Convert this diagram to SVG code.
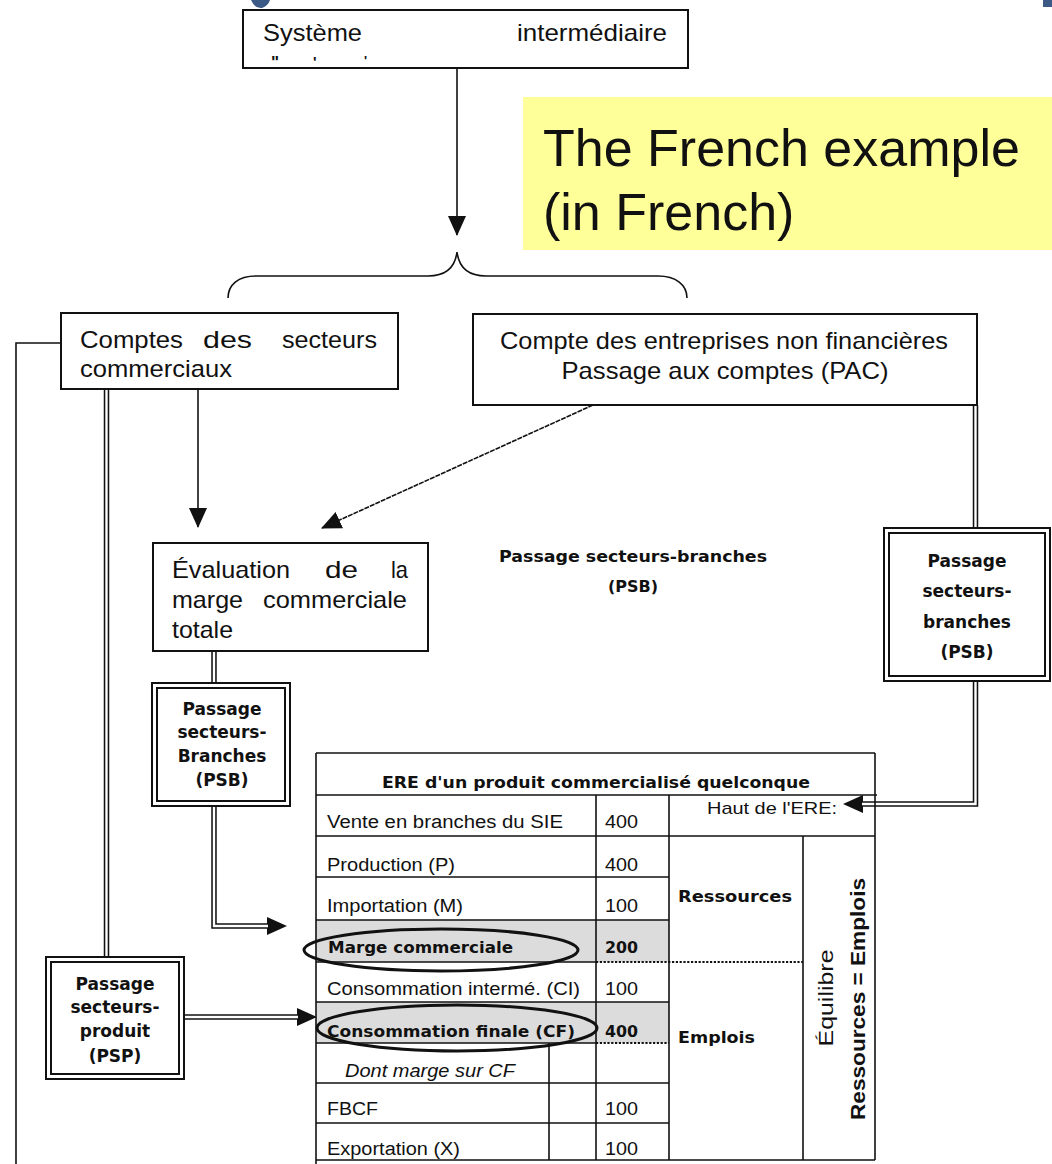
<svg xmlns="http://www.w3.org/2000/svg" width="1052" height="1164" viewBox="0 0 1052 1164">
<style>
.bx{fill:#fff;stroke:#111;stroke-width:2}
.t{font-family:"Liberation Sans",Arial,sans-serif;fill:#111}
.b{font-family:"DejaVu Sans",Verdana,sans-serif;font-weight:bold;fill:#111}
.bl{font-family:"Liberation Sans",Arial,sans-serif;font-weight:bold;fill:#111}
.c{text-anchor:middle}
.ln{fill:none;stroke:#111;stroke-width:1.6}
.dk{fill:none;stroke:#111;stroke-width:5.5;stroke-linejoin:miter}
.dw{fill:none;stroke:#fff;stroke-width:2.4;stroke-linejoin:miter}
.tl{stroke:#111;stroke-width:1.6}
.dot{stroke:#111;stroke-width:2.2;stroke-dasharray:2.2 1.6}
.el{fill:none;stroke:#111;stroke-width:3}
.gr{fill:#dcdcdc}
</style>
<defs>
<marker id="ah" viewBox="0 0 20 18" markerWidth="20" markerHeight="18" refX="19" refY="9" orient="auto" markerUnits="userSpaceOnUse"><path d="M0,0 L20,9 L0,18 z" fill="#111"/></marker>
<marker id="ahd" viewBox="0 0 20 18" markerWidth="20" markerHeight="18" refX="1" refY="9" orient="auto" markerUnits="userSpaceOnUse"><path d="M0,0 L20,9 L0,18 z" fill="#111"/></marker>
</defs>
<rect width="1052" height="1164" fill="#fff"/>
<path d="M251,0 Q255,9 262,8 Q268,6 270,0 Z" fill="#3d5a86"/>
<rect x="1043" y="0" width="9" height="7" fill="#3d5a86"/>

<g id="connectors">
<line class="ln" x1="457" y1="68" x2="457" y2="235" marker-end="url(#ah)"/>
<path class="ln" stroke="#333" d="M228,298 C228,285 238,276 256,276 L428,276 C446,276 455,268 457,252 C459,268 468,276 486,276 L658,276 C676,276 687,285 687,298"/>
<line class="ln" x1="198" y1="389" x2="198" y2="527" marker-end="url(#ah)"/>
<line class="ln" stroke="#3a3a3a" stroke-dasharray="5 1" x1="593" y1="405" x2="322" y2="528" marker-end="url(#ah)"/>
<path class="ln" d="M61,343 H16 V1164"/>
<path class="dk" d="M106.5,389 V957"/>
<path class="dw" d="M106.5,389 V957"/>
<path class="dk" d="M214,651 V683"/>
<path class="dw" d="M214,651 V683"/>
<path class="dk" d="M214,806 V926 H268" marker-end="url(#ahd)"/>
<path class="dw" d="M214,806 V926 H268"/>
<path class="dk" d="M184,1017 H298" marker-end="url(#ahd)"/>
<path class="dw" d="M184,1017 H298"/>
<path class="dk" d="M975.5,405 V528"/>
<path class="dw" d="M975.5,405 V528"/>
<path class="dk" d="M975.5,681 V804 H862" marker-end="url(#ahd)"/>
<path class="dw" d="M975.5,681 V804 H862"/>
</g>

<g id="sie">
<rect class="bx" x="243" y="10" width="445" height="58"/>
<text class="t" x="263" y="41" font-size="24" textLength="99" lengthAdjust="spacingAndGlyphs">Système</text>
<text class="t" x="517" y="41" font-size="24" textLength="150" lengthAdjust="spacingAndGlyphs">intermédiaire</text>
<text class="bl" x="271" y="68" font-size="17">"</text>
<text class="bl" x="313" y="67" font-size="15">'</text>
<text class="bl" x="364" y="65" font-size="13">'</text>
</g>

<g id="note">
<rect x="523" y="97" width="529" height="153" fill="#ffff99"/>
<text class="t" x="543" y="166" font-size="52" fill="#000">The French example</text>
<text class="t" x="543" y="230" font-size="52" fill="#000">(in French)</text>
</g>

<g id="comptes">
<rect class="bx" x="61" y="313" width="337" height="76"/>
<text class="t" x="80" y="348" font-size="24" textLength="103" lengthAdjust="spacingAndGlyphs">Comptes</text>
<text class="t" x="203" y="348" font-size="24" textLength="49" lengthAdjust="spacingAndGlyphs">des</text>
<text class="t" x="282" y="348" font-size="24" textLength="95" lengthAdjust="spacingAndGlyphs">secteurs</text>
<text class="t" x="80" y="377" font-size="24" textLength="152" lengthAdjust="spacingAndGlyphs">commerciaux</text>
</g>

<g id="pac">
<rect class="bx" x="473" y="314" width="504" height="91"/>
<text class="t c" x="724" y="349" font-size="24" textLength="448" lengthAdjust="spacingAndGlyphs">Compte des entreprises non financières</text>
<text class="t c" x="725" y="379" font-size="24" textLength="327" lengthAdjust="spacingAndGlyphs">Passage aux comptes (PAC)</text>
</g>

<g id="evaluation">
<rect class="bx" x="153" y="543" width="275" height="108"/>
<text class="t" x="172" y="578" font-size="24" textLength="118" lengthAdjust="spacingAndGlyphs">Évaluation</text>
<text class="t" x="325" y="578" font-size="24" textLength="33" lengthAdjust="spacingAndGlyphs">de</text>
<text class="t" x="391" y="578" font-size="24" textLength="17" lengthAdjust="spacingAndGlyphs">la</text>
<text class="t" x="172" y="608" font-size="24" textLength="71" lengthAdjust="spacingAndGlyphs">marge</text>
<text class="t" x="263" y="608" font-size="24" textLength="144" lengthAdjust="spacingAndGlyphs">commerciale</text>
<text class="t" x="172" y="638" font-size="24" textLength="61" lengthAdjust="spacingAndGlyphs">totale</text>
</g>

<g id="psb-label">
<text class="b c" x="633" y="562" font-size="16" textLength="268" lengthAdjust="spacingAndGlyphs">Passage secteurs-branches</text>
<text class="b c" x="633" y="592" font-size="16">(PSB)</text>
</g>

<g id="psb-right">
<rect class="bx" x="884" y="528" width="166" height="153"/>
<rect class="bx" x="889" y="533" width="156" height="143"/>
<text class="b c" x="967" y="567" font-size="17">Passage</text>
<text class="b c" x="967" y="597" font-size="17">secteurs-</text>
<text class="b c" x="967" y="628" font-size="17">branches</text>
<text class="b c" x="967" y="658" font-size="17">(PSB)</text>
</g>

<g id="psb-left">
<rect class="bx" x="152" y="683" width="138" height="123"/>
<rect class="bx" x="157" y="688" width="128" height="113"/>
<text class="b c" x="222" y="715" font-size="17">Passage</text>
<text class="b c" x="222" y="738" font-size="17">secteurs-</text>
<text class="b c" x="222" y="762" font-size="17">Branches</text>
<text class="b c" x="222" y="786" font-size="17">(PSB)</text>
</g>

<g id="psp">
<rect class="bx" x="46" y="957" width="138" height="122"/>
<rect class="bx" x="51" y="962" width="128" height="112"/>
<text class="b c" x="115" y="990" font-size="17">Passage</text>
<text class="b c" x="115" y="1013" font-size="17">secteurs-</text>
<text class="b c" x="115" y="1037" font-size="17">produit</text>
<text class="b c" x="115" y="1062" font-size="17">(PSP)</text>
</g>

<g id="ere">
<rect class="gr" x="316" y="920" width="353" height="42"/>
<rect class="gr" x="316" y="1002" width="353" height="41"/>
<line class="tl" x1="316" y1="753" x2="875" y2="753"/>
<line class="tl" x1="316" y1="795" x2="877" y2="795"/>
<line class="tl" stroke-width="3" x1="316" y1="836" x2="875" y2="836"/>
<line class="tl" x1="316" y1="877" x2="669" y2="877"/>
<line class="tl" x1="316" y1="920" x2="669" y2="920"/>
<line class="tl" stroke-width="2" x1="316" y1="962" x2="596" y2="962"/>
<line class="dot" x1="596" y1="962" x2="803" y2="962"/>
<line class="tl" x1="316" y1="1002" x2="669" y2="1002"/>
<line class="tl" stroke-width="2" x1="316" y1="1043" x2="596" y2="1043"/>
<line class="dot" x1="596" y1="1043" x2="669" y2="1043"/>
<line class="tl" x1="316" y1="1083" x2="669" y2="1083"/>
<line class="tl" x1="316" y1="1123" x2="669" y2="1123"/>
<line class="tl" x1="316" y1="1160" x2="875" y2="1160"/>
<line class="tl" x1="316" y1="753" x2="316" y2="1164"/>
<line class="tl" x1="875" y1="753" x2="875" y2="1160"/>
<line class="tl" x1="596" y1="795" x2="596" y2="1160"/>
<line class="tl" x1="669" y1="795" x2="669" y2="1160"/>
<line class="tl" x1="803" y1="836" x2="803" y2="1160"/>
<line class="tl" x1="549" y1="1043" x2="549" y2="1160"/>

<text class="b" x="382" y="788" font-size="16" textLength="428" lengthAdjust="spacingAndGlyphs">ERE d'un produit commercialisé quelconque</text>
<text class="t" x="707" y="814" font-size="17" textLength="130" lengthAdjust="spacingAndGlyphs">Haut de l'ERE:</text>
<text class="t" x="327" y="828" font-size="18" textLength="236" lengthAdjust="spacingAndGlyphs">Vente en branches du SIE</text>
<text class="t" x="605" y="828" font-size="18" textLength="33" lengthAdjust="spacingAndGlyphs">400</text>
<text class="t" x="327" y="871" font-size="18" textLength="128" lengthAdjust="spacingAndGlyphs">Production (P)</text>
<text class="t" x="605" y="871" font-size="18" textLength="33" lengthAdjust="spacingAndGlyphs">400</text>
<text class="t" x="327" y="912" font-size="18" textLength="136" lengthAdjust="spacingAndGlyphs">Importation (M)</text>
<text class="t" x="605" y="912" font-size="18" textLength="33" lengthAdjust="spacingAndGlyphs">100</text>
<text class="b" x="328" y="953" font-size="16" textLength="185" lengthAdjust="spacingAndGlyphs">Marge commerciale</text>
<text class="b" x="605" y="953" font-size="16" textLength="33" lengthAdjust="spacingAndGlyphs">200</text>
<text class="t" x="327" y="995" font-size="18" textLength="253" lengthAdjust="spacingAndGlyphs">Consommation intermé. (CI)</text>
<text class="t" x="605" y="995" font-size="18" textLength="33" lengthAdjust="spacingAndGlyphs">100</text>
<text class="b" x="327" y="1037" font-size="16" textLength="248" lengthAdjust="spacingAndGlyphs">Consommation finale (CF)</text>
<text class="b" x="605" y="1037" font-size="16" textLength="33" lengthAdjust="spacingAndGlyphs">400</text>
<text class="t" x="345" y="1077" font-size="18" font-style="italic" textLength="170" lengthAdjust="spacingAndGlyphs">Dont marge sur CF</text>
<text class="t" x="327" y="1115" font-size="18" textLength="51" lengthAdjust="spacingAndGlyphs">FBCF</text>
<text class="t" x="605" y="1115" font-size="18" textLength="33" lengthAdjust="spacingAndGlyphs">100</text>
<text class="t" x="327" y="1155" font-size="18" textLength="133" lengthAdjust="spacingAndGlyphs">Exportation (X)</text>
<text class="t" x="605" y="1155" font-size="18" textLength="33" lengthAdjust="spacingAndGlyphs">100</text>
<text class="b" x="678" y="902" font-size="16" textLength="114" lengthAdjust="spacingAndGlyphs">Ressources</text>
<text class="b" x="678" y="1043" font-size="16" textLength="77" lengthAdjust="spacingAndGlyphs">Emplois</text>
<text class="t c" transform="translate(833,998) rotate(-90)" font-size="21" textLength="97" lengthAdjust="spacingAndGlyphs">Équilibre</text>
<text class="bl c" transform="translate(865,999) rotate(-90)" font-size="21" textLength="242" lengthAdjust="spacingAndGlyphs">Ressources = Emplois</text>
<ellipse class="el" cx="441" cy="950" rx="137" ry="21"/>
<ellipse class="el" cx="457" cy="1028" rx="140" ry="23"/>
</g>
</svg>
